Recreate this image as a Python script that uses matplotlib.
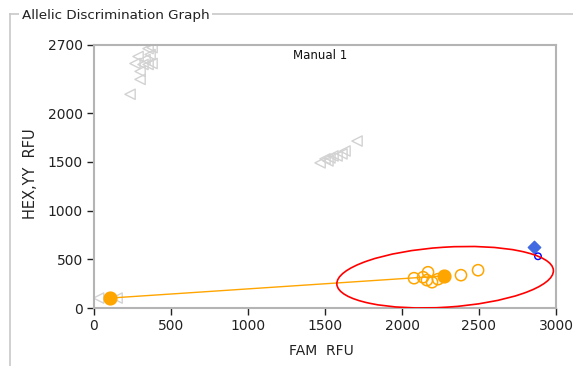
import matplotlib

matplotlib.use("Agg")
import matplotlib.pyplot as plt
import matplotlib.transforms as mtransforms
from matplotlib.lines import Line2D
from matplotlib.patches import Ellipse

# gray "undetermined" samples (left triangles)
undet_x = [234, 286, 351, 364, 318, 299, 299, 351, 377, 331, 377, 266,
           1468, 1500, 1519, 1532, 1552, 1578, 1610, 1630, 1708,
           30, 150]
undet_y = [2194, 2582, 2663, 2602, 2500, 2429, 2347, 2500, 2510, 2551, 2673, 2510,
           1490, 1531, 1510, 1541, 1561, 1561, 1582, 1612, 1714,
           102, 102]

# orange allele cluster
allele_x = [2078, 2137, 2169, 2162, 2195, 2234, 2383, 2494]
allele_y = [306, 316, 367, 286, 265, 296, 337, 388]

# filled orange points (NTC and cluster centre), joined by the fit line
centre_x = [104, 2273]
centre_y = [102, 330]

# blue sample
blue_x = [2857]
blue_y = [622]
blue_ring_x = [2883]
blue_ring_y = [531]

# manual call ellipse, size in pixels around its centre
ell_centre = (2280, 316)
ell_w_px, ell_h_px, ell_angle = 217, 60, 3.7

x_ticks = [0, 500, 1000, 1500, 2000, 2500, 3000]
y_ticks = [0, 500, 1000, 1500, 2000, 2700]

plt.rcParams["font.family"] = ["DejaVu Sans"]

fig = plt.figure(figsize=(5.73, 3.66), dpi=100)
W, H = 573, 366

# group box frame
frame_col = "#c8c8c8"
fig.add_artist(Line2D([10 / W, 10 / W], [0, 1 - 14 / H], color=frame_col, lw=1.2))
fig.add_artist(Line2D([10 / W, 1], [1 - 14 / H, 1 - 14 / H], color=frame_col, lw=1.2))
fig.text(22 / W, 1 - 15 / H, "Allelic Discrimination Graph", fontsize=9.7, va="center",
         ha="left", color="#222222", bbox=dict(facecolor="white", edgecolor="none", pad=2))

ax = fig.add_axes([94 / W, 1 - 308 / H, (556 - 94) / W, (308 - 45) / H])
ax.set_xlim(0, 3000)
ax.set_ylim(0, 2700)

ax.scatter(undet_x, undet_y, marker="<", s=55, facecolors="none",
           edgecolors="#d2d2d2", linewidths=1.0, zorder=2)
ax.plot(centre_x, centre_y, color="#ffa500", lw=1.0, zorder=3)
ax.scatter(allele_x, allele_y, marker="o", s=65, facecolors="none",
           edgecolors="#ffa500", linewidths=1.1, zorder=4)
ax.scatter(centre_x, centre_y, marker="o", s=85, color="#ffa500", zorder=5)
ax.scatter(blue_x, blue_y, marker="D", s=40, color="#4169e1", zorder=5)
ax.scatter(blue_ring_x, blue_ring_y, marker="o", s=22, facecolors="none",
           edgecolors="#0000ff", linewidths=1.0, zorder=5)

ell_trans = mtransforms.IdentityTransform() + mtransforms.ScaledTranslation(
    ell_centre[0], ell_centre[1], ax.transData)
ax.add_patch(Ellipse((0, 0), ell_w_px, ell_h_px, angle=ell_angle, fill=False,
                     edgecolor="#ff0000", lw=1.2, transform=ell_trans, zorder=6))

ax.text(0.489, 0.985, "Manual 1", transform=ax.transAxes, ha="center", va="top",
        fontsize=8.5, color="#111111")

for side in ["left", "bottom", "right", "top"]:
    ax.spines[side].set_color("#b4b4b4")
    ax.spines[side].set_linewidth(1.5)
ax.set_xticks(x_ticks)
ax.set_yticks(y_ticks)
ax.tick_params(direction="out", length=5, width=1, color="#222222",
               labelsize=10, labelcolor="#222222", pad=3)

ax.set_xlabel("FAM  RFU", fontsize=10, color="#222222")
ax.set_ylabel("HEX,YY  RFU", fontsize=10.5, color="#222222")
ax.xaxis.set_label_coords((321 - 94) / 462, -0.135)
ax.yaxis.set_label_coords((38 - 94) / 462, (308 - 174) / 263)

fig.savefig("out.png", dpi=100)
